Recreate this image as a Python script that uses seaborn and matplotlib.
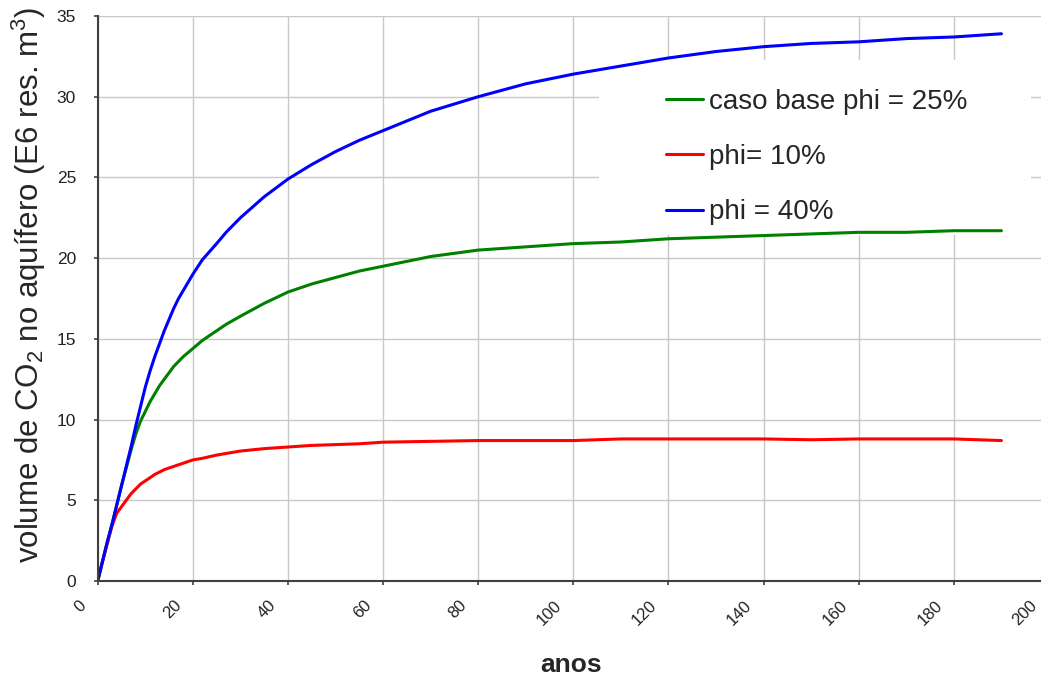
import numpy as np
import pandas as pd
import matplotlib
matplotlib.use("Agg")
import matplotlib.pyplot as plt
import matplotlib.transforms as mtransforms
from matplotlib.patches import Rectangle
import seaborn as sns

anos = [0, 1, 2, 3, 4, 5, 6, 7, 8, 9, 10, 11, 12, 13, 14, 15, 16, 17, 18, 20, 22, 25, 27, 30,
        35, 40, 45, 50, 55, 60, 70, 80, 90, 100, 110, 120, 130, 140, 150, 160, 170, 180, 190]
phi25 = [0, 1.2, 2.4, 3.5, 4.7, 5.9, 7.0, 8.1, 9.1, 9.9, 10.5, 11.1, 11.6, 12.1, 12.5, 12.9,
         13.3, 13.6, 13.9, 14.4, 14.9, 15.5, 15.9, 16.4, 17.2, 17.9, 18.4, 18.8, 19.2, 19.5,
         20.1, 20.5, 20.7, 20.9, 21.0, 21.2, 21.3, 21.4, 21.5, 21.6, 21.6, 21.7, 21.7]
phi10 = [0, 1.2, 2.3, 3.4, 4.2, 4.6, 5.0, 5.4, 5.7, 6.0, 6.2, 6.4, 6.6, 6.75, 6.9, 7.0,
         7.1, 7.2, 7.3, 7.5, 7.6, 7.8, 7.9, 8.05, 8.2, 8.3, 8.4, 8.45, 8.5, 8.6,
         8.65, 8.7, 8.7, 8.7, 8.8, 8.8, 8.8, 8.8, 8.75, 8.8, 8.8, 8.8, 8.7]
phi40 = [0, 1.2, 2.4, 3.5, 4.7, 5.9, 7.1, 8.3, 9.6, 10.8, 12.0, 13.0, 13.9, 14.7, 15.5, 16.2,
         16.9, 17.5, 18.0, 19.0, 19.9, 20.9, 21.6, 22.5, 23.8, 24.9, 25.8, 26.6, 27.3, 27.9,
         29.1, 30.0, 30.8, 31.4, 31.9, 32.4, 32.8, 33.1, 33.3, 33.4, 33.6, 33.7, 33.9]
series_names = ["caso base phi = 25%", "phi= 10%", "phi = 40%"]
series_colors = ["#008000", "#ff0000", "#0000ff"]
x_ticks = [0, 20, 40, 60, 80, 100, 120, 140, 160, 180, 200]
y_ticks = [0, 5, 10, 15, 20, 25, 30, 35]

df = pd.concat([
    pd.DataFrame({"anos": anos, "vol": vals, "serie": name})
    for name, vals in zip(series_names, [phi25, phi10, phi40])
])

sns.set_theme(style="whitegrid")
plt.rcParams["font.family"] = ["Liberation Sans", "DejaVu Sans"]
plt.rcParams["mathtext.default"] = "regular"

W, H = 1041, 686
fig = plt.figure(figsize=(W / 100, H / 100), dpi=100)
x0, x1, ytop, ybot = 97.7, 1049.0, 16.0, 581.0
ax = fig.add_axes([x0 / W, (H - ybot) / H, (x1 - x0) / W, (ybot - ytop) / H])

sns.lineplot(data=df, x="anos", y="vol", hue="serie", hue_order=series_names,
             palette=series_colors, linewidth=2.2, ax=ax, legend=True, zorder=2)

ax.set_xlim(0, 200)
ax.set_ylim(0, 35)
ax.set_xticks(x_ticks)
ax.set_yticks(y_ticks)
ax.grid(True, color="#c8c8c8", linewidth=1.0)
ax.set_axisbelow(True)
for s in ["top", "right"]:
    ax.spines[s].set_visible(False)
for s in ["left", "bottom"]:
    ax.spines[s].set_color("#404040")
    ax.spines[s].set_linewidth(1.5)
ax.tick_params(axis="both", direction="out", length=3, width=1.2, color="#404040",
               left=True, bottom=True)
ax.tick_params(axis="y", labelsize=12.5, labelcolor="#222222", pad=12.6)
ax.tick_params(axis="x", labelsize=12, labelcolor="#222222", pad=12.8)
offset = mtransforms.ScaledTranslation(-0.14, 0, fig.dpi_scale_trans)
for lab in ax.get_xticklabels():
    lab.set_rotation(45)
    lab.set_ha("right")
    lab.set_va("center")
    lab.set_rotation_mode("anchor")
    lab.set_transform(lab.get_transform() + offset)

ax.set_xlabel("anos", fontsize=19, fontweight="bold")
ax.xaxis.set_label_coords(0.4977, -0.127)
ax.set_ylabel("volume de CO$_2$ no aquífero (E6 res. m$^3$)", fontsize=22.5)
ax.yaxis.set_label_coords(-0.052, 0.524)

# white background box behind the legend (covers the grid, under the lines)
ax.add_patch(Rectangle((0.5274, 0.6124), 0.454, 0.3096, transform=ax.transAxes,
                       facecolor="white", edgecolor="none", zorder=1))

leg = ax.legend(loc="upper left", bbox_to_anchor=(0.5976, 0.8708), frameon=False,
                fontsize=20, handlelength=1.33, handletextpad=0.22, labelspacing=1.05,
                borderpad=0, borderaxespad=0)

fig.savefig("out.png", dpi=100)
